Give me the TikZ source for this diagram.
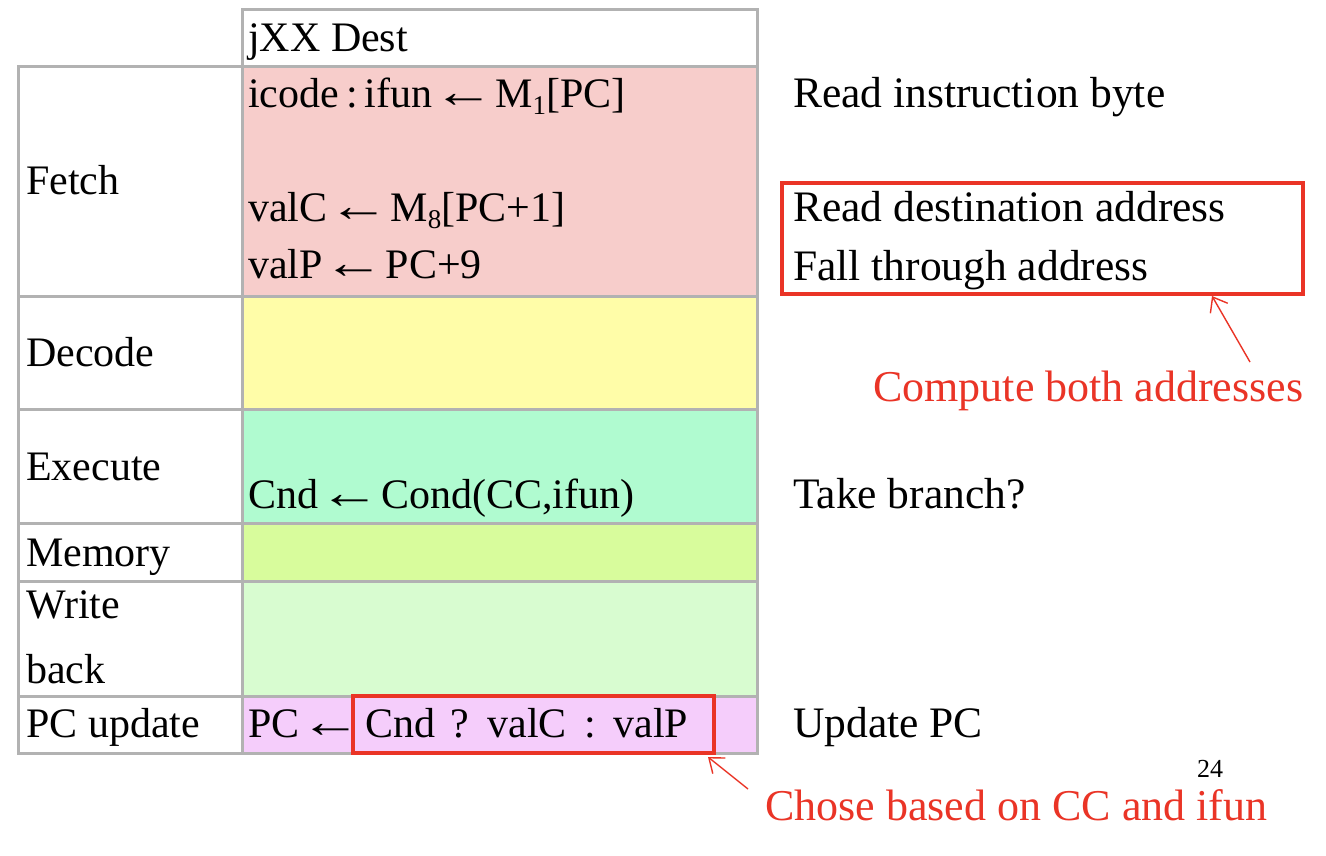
\documentclass[tikz,border=0pt]{standalone}
\usepackage{fontspec}
\setmainfont{Liberation Serif}
\usetikzlibrary{arrows.meta}
\definecolor{grid}{RGB}{178,178,178}
\definecolor{hot}{RGB}{234,52,38}
\definecolor{cfetch}{RGB}{247,205,203}
\definecolor{cdecode}{RGB}{255,253,168}
\definecolor{cexec}{RGB}{176,251,208}
\definecolor{cmem}{RGB}{216,252,156}
\definecolor{cwb}{RGB}{216,252,208}
\definecolor{cpc}{RGB}{245,205,251}
\newcommand{\sbx}[1]{{\fontsize{27}{27}\selectfont\raisebox{-7pt}{#1}}}
\newcommand{\larr}{\hspace{1pt}\scalebox{1.45}[1.1]{←}\hspace{1pt}}
\begin{document}
\begin{tikzpicture}[x=1pt,y=-1pt,
  cell/.style={draw=grid,line width=3pt},
  txt/.style={anchor=base west,inner sep=0pt,font=\fontsize{42}{50}\selectfont},
  note/.style={anchor=base west,inner sep=0pt,font=\fontsize{43.5}{50}\selectfont},
  rednote/.style={anchor=base west,inner sep=0pt,text=hot,font=\fontsize{44}{50}\selectfont},
  redbox/.style={draw=hot,line width=4pt},
  redarrow/.style={draw=hot,line width=1.4pt,-{Straight Barb[length=13pt,width=20pt,line width=1.4pt]}}]
\fill[white] (0,0) rectangle (1326,856);
\useasboundingbox (0,0) rectangle (1326,856);
% cells
\draw[cell,fill=white] (242,10) rectangle (757,67);
\draw[cell,fill=white] (18,67) rectangle (242,296);
\draw[cell,fill=cfetch] (242,67) rectangle (757,296);
\draw[cell,fill=white] (18,296) rectangle (242,409);
\draw[cell,fill=cdecode] (242,296) rectangle (757,409);
\draw[cell,fill=white] (18,409) rectangle (242,523);
\draw[cell,fill=cexec] (242,409) rectangle (757,523);
\draw[cell,fill=white] (18,523) rectangle (242,581);
\draw[cell,fill=cmem] (242,523) rectangle (757,581);
\draw[cell,fill=white] (18,581) rectangle (242,696);
\draw[cell,fill=cwb] (242,581) rectangle (757,696);
\draw[cell,fill=white] (18,696) rectangle (242,753);
\draw[cell,fill=cpc] (242,696) rectangle (757,753);
% stage labels
\node[txt] (hdr) at (248,52) {jXX Dest};
\node[txt] (sfetch) at (26,195) {Fetch};
\node[txt] (sdecode) at (26,366) {Decode};
\node[txt] (sexec) at (26,480) {Execute};
\node[txt] (smem) at (26,566) {Memory};
\node[txt] (swb1) at (26,618) {Write};
\node[txt] (swb2) at (26,683) {back};
\node[txt] (spc) at (26,737) {PC update};
% operations
\node[txt] (op1) at (248,108) {icode\,:\,ifun\larr M\sbx{1}[PC]};
\node[txt] (op2) at (248,222) {valC\larr M\sbx{8}[PC+1]};
\node[txt] (op3) at (248,278) {valP\larr PC+9};
\node[txt] (op4) at (248,508) {Cnd\larr Cond(CC,ifun)};
\node[txt] (op5) at (248,737) {PC\larr\hspace{3pt}Cnd\hspace{5pt} ?\hspace{4pt} valC\hspace{7pt} :\hspace{7pt} valP};
% notes
\node[note] (n1) at (793,108) {Read instruction byte};
\node[note] (n2) at (793,222) {Read destination address};
\node[note] (n3) at (793,280) {Fall through address};
\node[note] (n4) at (793,508) {Take branch?};
\node[note] (n5) at (793,737) {Update PC};
\node[anchor=base west,inner sep=0pt,font=\fontsize{26}{30}\selectfont] (pg) at (1197,777) {24};
% red boxes
\draw[redbox] (782,183) rectangle (1303,294);
\draw[redbox] (353,696) rectangle (714,753);
\coordinate (rb1) at (1212,296);
\coordinate (rb2) at (708,757);
% red notes
\node[rednote] (r1) at (873,401) {Compute both addresses};
\node[rednote] (r2) at (765,820) {Chose based on CC and ifun};
\coordinate (t1) at (1250,362);
\coordinate (t2) at (748,789);
\draw[redarrow] (t1) -- (rb1);
\draw[redarrow] (t2) -- (rb2);
\end{tikzpicture}
\end{document}
